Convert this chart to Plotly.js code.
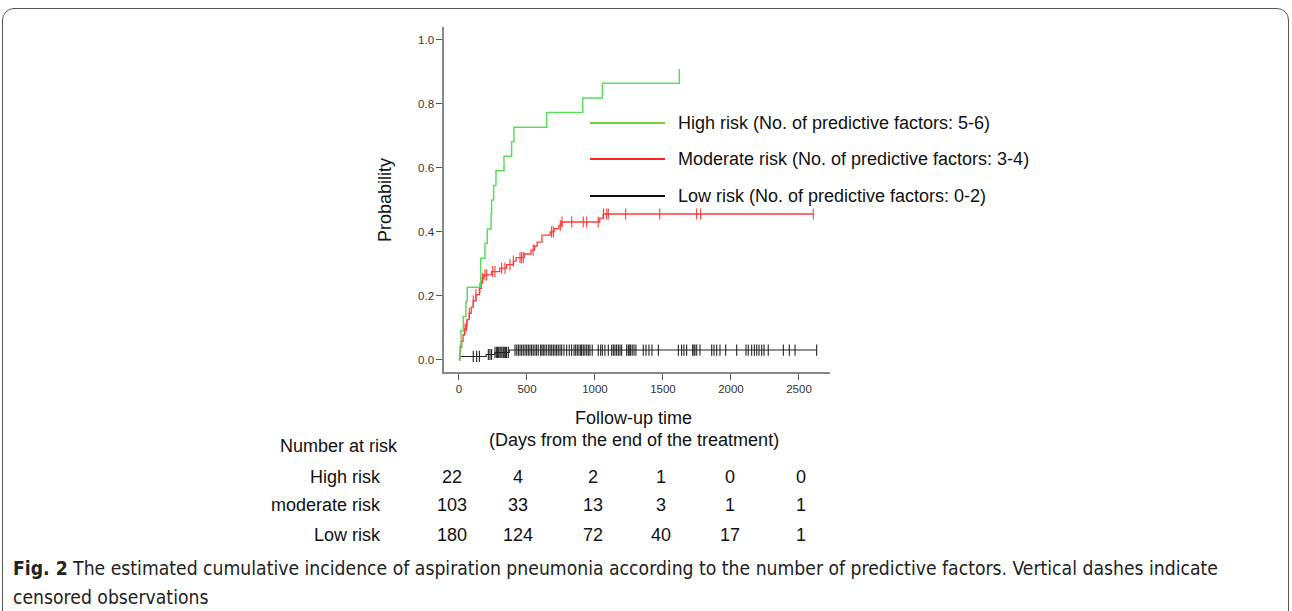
<!DOCTYPE html>
<html>
<head>
<meta charset="utf-8">
<script src="https://cdn.plot.ly/plotly-2.35.2.min.js"></script>
<style>
  html, body { margin: 0; padding: 0; background: #fff; width: 1292px; height: 611px; overflow: hidden; }
  #frame { position: absolute; left: 2px; top: 8px; width: 1285px; height: 700px; border: 1.3px solid #555; border-radius: 12px; }
  #chart { position: absolute; left: 0; top: 0; width: 1292px; height: 611px; }
</style>
</head>
<body>
<div id="frame"></div>
<div id="chart"></div>
<script>
// ---------------- data ----------------
// High risk (5-6 factors): step times (days) and cumulative incidence
const highTimes = [0, 8, 15, 32, 51, 61, 160, 191, 208, 236, 240, 255, 272, 331, 387, 404, 645, 910, 1054, 1620];
const highProbs = [0, 0.045, 0.091, 0.136, 0.182, 0.227, 0.318, 0.364, 0.409, 0.455, 0.500, 0.545, 0.591, 0.636, 0.682, 0.727, 0.773, 0.818, 0.864, 0.909];
const highCensor = [];

// Moderate risk (3-4 factors)
const modTimes = [0, 5, 10, 20, 30, 40, 50, 60, 75, 90, 105, 125, 150, 165, 170, 180, 240, 300, 350, 400, 420, 480, 530, 555, 575, 610, 670, 700, 735, 755, 1035, 1060];
const modProbs = [0, 0.019, 0.039, 0.058, 0.078, 0.097, 0.107, 0.126, 0.146, 0.165, 0.185, 0.204, 0.224, 0.245, 0.255, 0.266, 0.276, 0.287, 0.298, 0.309, 0.320, 0.331, 0.343, 0.356, 0.368, 0.390, 0.400, 0.410, 0.420, 0.431, 0.443, 0.456];
const modCensor = [45, 56, 76, 105, 125, 154, 174, 191, 204, 248, 265, 314, 338, 375, 400, 449, 461, 473, 546, 681, 694, 745, 758, 829, 914, 939, 1024, 1063, 1086, 1098, 1226, 1476, 1748, 1777, 2605];

// Low risk (0-2 factors)
const lowTimes = [0, 3, 8, 200, 265, 370];
const lowProbs = [0, 0.0056, 0.0111, 0.0172, 0.0235, 0.031];
const lowCensor = [105, 130, 150, 216, 228, 240, 265, 277, 284, 292, 301, 309, 316, 326, 333, 341, 350, 363,
  412, 425, 437, 449, 461, 473, 486, 498, 510, 522, 534, 546, 559, 571, 583, 600, 610, 620, 632, 645, 660, 670, 682, 694, 706, 718, 730, 743,
  755, 772, 792, 811, 828, 846, 858, 870, 882, 895, 902, 914, 926, 939, 951, 963, 980, 1024, 1042, 1054, 1073, 1098, 1123, 1135, 1147, 1159, 1172, 1184, 1196,
  1233, 1245, 1252, 1262, 1274, 1287, 1301, 1355, 1375, 1397, 1419, 1466, 1613, 1637, 1654, 1674, 1718, 1728, 1735, 1748, 1772,
  1858, 1875, 1895, 1919, 1961, 2042, 2110, 2127, 2152, 2172, 2189, 2206, 2226, 2243, 2274, 2385, 2429, 2471, 2630];

// Number at risk table
const riskTimes = [0, 500, 1000, 1500, 2000, 2500];
const riskGroups = ["High risk", "moderate risk", "Low risk"];
const riskHigh = [22, 4, 2, 1, 0, 0];
const riskMod = [103, 33, 13, 3, 1, 1];
const riskLow = [180, 124, 72, 40, 17, 1];

const legendLabels = [
  "High risk (No. of predictive factors: 5-6)",
  "Moderate risk (No. of predictive factors: 3-4)",
  "Low risk (No. of predictive factors: 0-2)"
];

const xTicks = [0, 500, 1000, 1500, 2000, 2500];
const yTicks = [0, 0.2, 0.4, 0.6, 0.8, 1.0];
const yTickText = ["0.0", "0.2", "0.4", "0.6", "0.8", "1.0"];

// ---------------- helpers ----------------
function stepAt(times, probs, t) {
  let p = probs[0];
  for (let i = 0; i < times.length; i++) { if (times[i] <= t) p = probs[i]; }
  return p;
}
function stepXY(times, probs, censor) {
  const x = times.slice(), y = probs.slice();
  const last = censor.length ? Math.max(...censor) : -Infinity;
  if (last > x[x.length - 1]) { x.push(last); y.push(y[y.length - 1]); }
  return { x, y };
}

const COL_HIGH = "#5edc5e", COL_MOD = "#ff3a3a", COL_LOW = "#222222";
const traces = [];
function addGroup(times, probs, censor, color, lw) {
  const s = stepXY(times, probs, censor);
  traces.push({ x: s.x, y: s.y, type: "scatter", mode: "lines", line: { color: color, width: lw, shape: "hv" }, hoverinfo: "skip", showlegend: false });
  if (censor.length) {
    traces.push({ x: censor, y: censor.map(t => stepAt(times, probs, t)), type: "scatter", mode: "markers",
      marker: { symbol: "line-ns", size: 8, line: { color: color, width: 1.1 } }, hoverinfo: "skip", showlegend: false });
  }
}
addGroup(lowTimes, lowProbs, lowCensor, COL_LOW, 1.1);
addGroup(modTimes, modProbs, modCensor, COL_MOD, 1.3);
addGroup(highTimes, highProbs, highCensor, COL_HIGH, 1.5);

// ---------------- layout ----------------
const FONT = "Liberation Sans, Arial, sans-serif";
const FS = 18;
const W = 1292, H = 611;
const M = { l: 444, r: W - 830, t: 27, b: H - 372 };
const pw = W - M.l - M.r, ph = H - M.t - M.b;
const px = v => (v - M.l) / pw;          // pixel -> paper x
const py = v => (H - M.b - v) / ph;      // pixel -> paper y
const txt = (text, x, y, xa, extra) => Object.assign({ text, xref: "paper", yref: "paper", x: px(x), y: py(y), xanchor: xa || "center", yanchor: "middle", showarrow: false, font: { family: FONT, size: FS, color: "#111" } }, extra || {});

const annotations = [];
const shapes = [];
// axis titles
annotations.push(txt("Probability", 385, 200, "center", { textangle: -90 }));
annotations.push(txt("Follow-up time", 633, 418));
annotations.push(txt("(Days from the end of the treatment)", 634, 440));
// legend
const legCols = ["#74cc3e", "#ff2020", "#111111"];
const legY = [123, 159, 196];
legendLabels.forEach((lab, i) => {
  shapes.push({ type: "line", xref: "paper", yref: "paper", x0: px(590), x1: px(665), y0: py(legY[i]), y1: py(legY[i]), line: { color: legCols[i], width: 2.2 } });
  annotations.push(txt(lab, 676, legY[i], "left"));
});
// number at risk table
annotations.push(txt("Number at risk", 278, 446, "left"));
const rowY = [477, 505, 535];
const colShift = [-7, -9, -2, -2, -1, 2];
[riskHigh, riskMod, riskLow].forEach((row, r) => {
  annotations.push(txt(riskGroups[r], 383, rowY[r], "right"));
  row.forEach((n, c) => {
    annotations.push({ text: String(n), xref: "x", yref: "paper", x: riskTimes[c], xshift: colShift[c], y: py(rowY[r]), xanchor: "center", yanchor: "middle", showarrow: false, font: { family: FONT, size: FS, color: "#111" } });
  });
});
// caption
const CAP = "DejaVu Sans Condensed, Liberation Sans, sans-serif";
annotations.push(txt("<b>Fig. 2</b> The estimated cumulative incidence of aspiration pneumonia according to the number of predictive factors. Vertical dashes indicate",
  11, 568, "left", { font: { family: CAP, size: 19.2, color: "#222" } }));
annotations.push(txt("censored observations", 11, 597, "left", { font: { family: CAP, size: 19.2, color: "#222" } }));

const layout = {
  width: W, height: H,
  margin: M,
  paper_bgcolor: "rgba(0,0,0,0)",
  plot_bgcolor: "rgba(0,0,0,0)",
  showlegend: false,
  xaxis: {
    range: [-110, 2728], showgrid: false, zeroline: false,
    showline: true, linecolor: "#888", linewidth: 1.6,
    ticks: "outside", ticklen: 6, tickcolor: "#555", tickwidth: 1,
    tickvals: xTicks, ticktext: xTicks.map(String),
    tickfont: { family: FONT, size: 11.5, color: "#333" }, title: { text: "" }
  },
  yaxis: {
    range: [-0.0375, 1.04], showgrid: false, zeroline: false,
    showline: true, linecolor: "#888", linewidth: 1.6,
    ticks: "outside", ticklen: 6, tickcolor: "#555", tickwidth: 1,
    tickvals: yTicks, ticktext: yTickText,
    tickfont: { family: FONT, size: 11.5, color: "#333" }, title: { text: "" }
  },
  annotations: annotations,
  shapes: shapes
};

Plotly.newPlot("chart", traces, layout, { staticPlot: true, displayModeBar: false });
</script>
</body>
</html>
